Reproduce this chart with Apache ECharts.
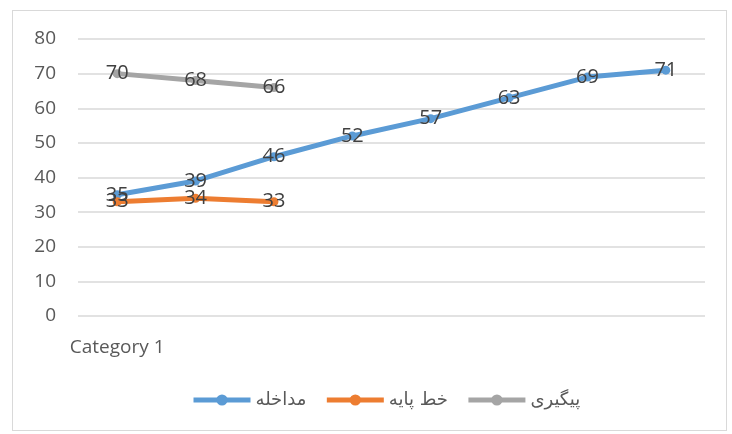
<!DOCTYPE html>
<html>
<head>
<meta charset="utf-8">
<script src="https://cdn.jsdelivr.net/npm/echarts@6/dist/echarts.min.js"></script>
<style>
  html, body { margin: 0; padding: 0; background: #fff; }
  #frame { position: absolute; left: 12px; top: 10px; width: 713px; height: 419px; border: 1px solid #d9d9d9; }
  #chart { position: absolute; left: 0; top: 0; width: 732px; height: 434px; }
</style>
</head>
<body>
<div id="frame"></div>
<div id="chart"></div>
<script>
// values
var categories = ['Category 1', '', '', '', '', '', '', ''];
var yTicks = { min: 0, max: 80, step: 10 };
var intervention = [35, 39, 46, 52, 57, 63, 69, 71];   // مداخله
var baseline = [33, 34, 33];                          // خط پایه
var followUp = [70, 68, 66];                          // پیگیری

var chart = echarts.init(document.getElementById('chart'));

function lineSeries(name, data, color) {
  return {
    name: name,
    type: 'line',
    data: data,
    symbol: 'circle',
    symbolSize: 9,
    lineStyle: { width: 5, color: color },
    itemStyle: { color: color },
    label: {
      show: true,
      position: 'inside',
      color: '#404040',
      fontSize: 20,
      fontFamily: 'Open Sans, Calibri, sans-serif'
    },
    emphasis: { disabled: true }
  };
}

chart.setOption({
  animation: false,
  grid: { left: 78, right: 27, top: 39, bottom: 118 },
  legend: {
    bottom: 20,
    left: 186,
    itemWidth: 57,
    itemHeight: 14,
    itemGap: 18,
    lineStyle: { width: 5 },
    textStyle: { color: '#595959', fontSize: 18, fontFamily: 'DejaVu Sans, sans-serif' },
    data: ['مداخله', 'خط پایه', 'پیگیری']
  },
  xAxis: {
    type: 'category',
    data: categories,
    boundaryGap: true,
    axisLine: { show: false },
    axisTick: { show: false },
    axisLabel: {
      color: '#595959',
      fontSize: 19,
      fontFamily: 'Open Sans, sans-serif',
      margin: 22,
      interval: 0
    }
  },
  yAxis: {
    type: 'value',
    min: yTicks.min,
    max: yTicks.max,
    interval: yTicks.step,
    axisLine: { show: false },
    axisTick: { show: false },
    axisLabel: { color: '#595959', fontSize: 19, fontFamily: 'Open Sans, sans-serif', margin: 22 },
    splitLine: { lineStyle: { color: '#d9d9d9', width: 1.5 } }
  },
  series: [
    lineSeries('مداخله', intervention, '#5b9bd5'),
    lineSeries('خط پایه', baseline, '#ed7d31'),
    lineSeries('پیگیری', followUp, '#a5a5a5')
  ]
});
</script>
</body>
</html>
